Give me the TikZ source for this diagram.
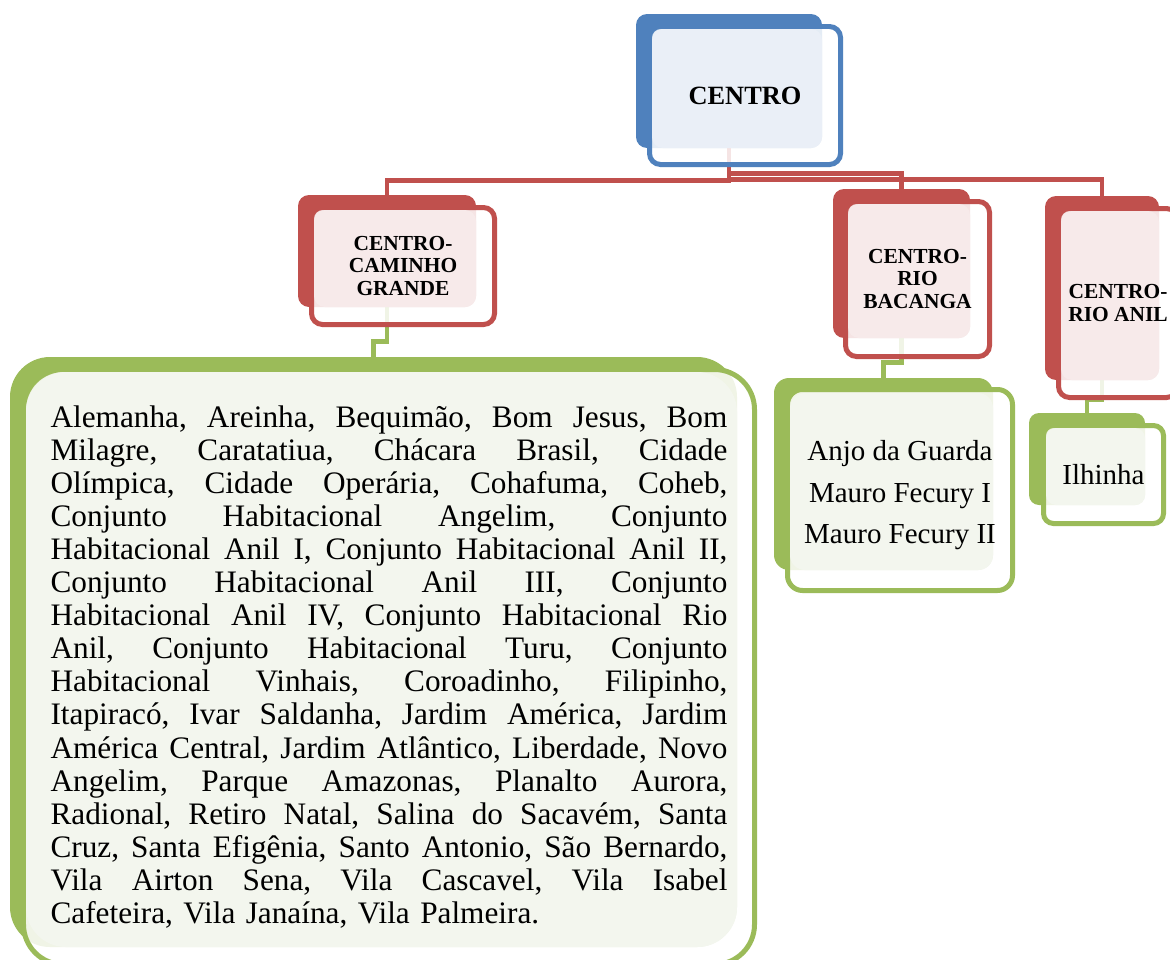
\documentclass[tikz,border=0pt]{standalone}
\usepackage{fontspec}
\setmainfont{Liberation Serif}
\usetikzlibrary{fit}
\definecolor{blueD}{HTML}{4F81BD}
\definecolor{blueL}{HTML}{EAEFF7}
\definecolor{redD}{HTML}{C0504D}
\definecolor{redL}{HTML}{F7EAEA}
\definecolor{greenD}{HTML}{9BBB59}
\definecolor{greenL}{HTML}{F3F6EE}
% one justified line of the long list
\newcommand{\justline}[1]{\leavevmode\hbox to 13.54cm{\sfcode`\,=1000 \spaceskip=0.25em plus 1fil\relax #1}}
\begin{document}
\begin{tikzpicture}[
  x=0.02cm, y=-0.02cm,
  backbox/.style={fill=#1, draw=none, inner sep=0pt},
  frame/.style={draw=#1, line width=0.1cm, fill=white, fill opacity=0.85, inner sep=0pt},
  lightbox/.style={fill=#1, draw=none, inner sep=0pt},
  link/.style={draw=#1, line width=0.095cm},
  head/.style={font=\bfseries\fontsize{12.2}{12.8}\selectfont, align=center, inner sep=0pt},
  names/.style={font=\fontsize{16.5}{23.5}\selectfont, align=center, inner sep=0pt}
]
\useasboundingbox[fill=white] (0,0) rectangle (1170,960);

% back shapes first, the connectors need their anchors
\node[backbox=blueD, rounded corners=0.22cm, fit={(636,14) (822,148)}] (centroB) {};
\node[backbox=redD, rounded corners=0.22cm, fit={(298,195) (476,307)}] (cgB) {};
\node[backbox=redD, rounded corners=0.22cm, fit={(833,189) (970,338)}] (bacB) {};
\node[backbox=redD, rounded corners=0.22cm, fit={(1045,196) (1159,380)}] (anilB) {};
\node[backbox=greenD, rounded corners=0.8cm, fit={(10,357) (737,947)}] (listB) {};
\node[backbox=greenD, rounded corners=0.3cm, fit={(774,378) (993,570)}] (mauroB) {};
\node[backbox=greenD, rounded corners=0.2cm, fit={(1029,413) (1145,505)}] (ilhB) {};

% connectors
\draw[link=redD] (centroB.south) -- ++(0,32) -| (cgB.north);
\draw[link=redD] (centroB.south) -- ++(0,25) -| (bacB.north);
\draw[link=redD] (centroB.south) -- ++(0,31) -| (anilB.north);
\draw[link=greenD] (cgB.south) -- ++(0,34) -| (listB.north);
\draw[link=greenD] (bacB.south) -- ++(0,24) -| (mauroB.north);
\draw[link=greenD] (anilB.south) -- ++(0,19) -| (ilhB.north);

% front frames
\node[frame=blueD, rounded corners=0.22cm, fit={(649.5,26.5) (840.5,164.5)}] (centroF) {};
\node[frame=redD, rounded corners=0.22cm, fit={(311.5,207.5) (494.5,324.5)}] (cgF) {};
\node[frame=redD, rounded corners=0.22cm, fit={(845.5,201.5) (989.5,356.5)}] (bacF) {};
\node[frame=redD, rounded corners=0.22cm, fit={(1058.5,208.5) (1177.5,397.5)}] (anilF) {};
\node[frame=greenD, rounded corners=0.8cm, fit={(23.5,369.5) (754.5,964.5)}] (listF) {};
\node[frame=greenD, rounded corners=0.3cm, fit={(787.5,389.5) (1012.5,590.5)}] (mauroF) {};
\node[frame=greenD, rounded corners=0.2cm, fit={(1043.5,425.5) (1163.5,523.5)}] (ilhF) {};

% light faces
\node[lightbox=blueL, rounded corners=0.22cm, fit={(652,29) (822,148)}] (centroL) {};
\node[lightbox=redL, rounded corners=0.22cm, fit={(314,210) (476,307)}] (cgL) {};
\node[lightbox=redL, rounded corners=0.22cm, fit={(848,204) (970,338)}] (bacL) {};
\node[lightbox=redL, rounded corners=0.22cm, fit={(1061,211) (1159,380)}] (anilL) {};
\node[lightbox=greenL, rounded corners=0.8cm, fit={(26,372) (737,947)}] (listL) {};
\node[lightbox=greenL, rounded corners=0.3cm, fit={(790,393) (993,570)}] (mauroL) {};
\node[lightbox=greenL, rounded corners=0.2cm, fit={(1046,428) (1145,505)}] (ilhL) {};

% texts
\node[font=\bfseries\fontsize{15}{16}\selectfont, inner sep=0pt] (centro) at (centroF.center) {CENTRO};
\node[head] (cg) at (cgF.center) {CENTRO-\\CAMINHO\\GRANDE};
\node[head] (bac) at (bacF.center) {CENTRO-\\RIO\\BACANGA};
\node[head] (anil) at (anilF.center) {CENTRO-\\RIO ANIL};
\node[names] (mauro) at ([yshift=-3]mauroF.center) {Anjo da Guarda\\Mauro Fecury I\\Mauro Fecury II};
\node[names] (ilh) at (ilhF.center) {Ilhinha};
\node[font=\fontsize{17.8}{18.8}\selectfont, text width=13.54cm, align=left, inner sep=0pt] (list) at (listF.center) {%
\justline{Alemanha, Areinha, Bequimão, Bom Jesus, Bom}\\
\justline{Milagre, Caratatiua, Chácara Brasil, Cidade}\\
\justline{Olímpica, Cidade Operária, Cohafuma, Coheb,}\\
\justline{Conjunto Habitacional Angelim, Conjunto}\\
\justline{Habitacional Anil I, Conjunto Habitacional Anil II,}\\
\justline{Conjunto Habitacional Anil III, Conjunto}\\
\justline{Habitacional Anil IV, Conjunto Habitacional Rio}\\
\justline{Anil, Conjunto Habitacional Turu, Conjunto}\\
\justline{Habitacional Vinhais, Coroadinho, Filipinho,}\\
\justline{Itapiracó, Ivar Saldanha, Jardim América, Jardim}\\
\justline{América Central, Jardim Atlântico, Liberdade, Novo}\\
\justline{Angelim, Parque Amazonas, Planalto Aurora,}\\
\justline{Radional, Retiro Natal, Salina do Sacavém, Santa}\\
\justline{Cruz, Santa Efigênia, Santo Antonio, São Bernardo,}\\
\justline{Vila Airton Sena, Vila Cascavel, Vila Isabel}\\
Cafeteira, Vila Janaína, Vila Palmeira.};
\end{tikzpicture}
\end{document}
